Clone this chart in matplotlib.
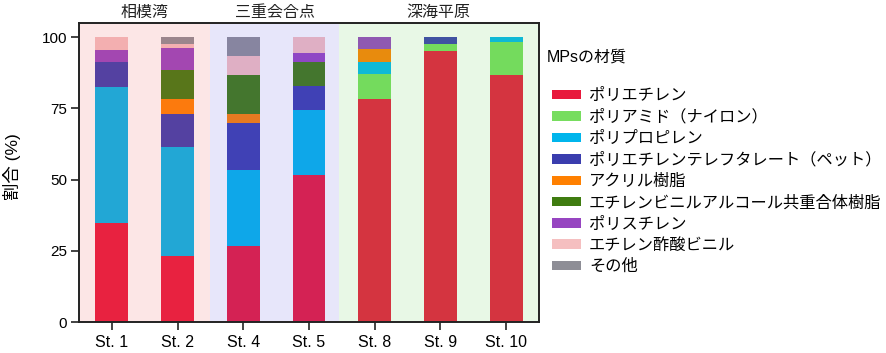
import matplotlib
matplotlib.use("Agg")
import matplotlib.pyplot as plt
import numpy as np

plt.rcParams['font.family'] = ['Liberation Sans', 'Noto Sans CJK JP', 'DejaVu Sans']

stations = ["St. 1", "St. 2", "St. 4", "St. 5", "St. 8", "St. 9", "St. 10"]
materials = ["ポリエチレン", "ポリアミド（ナイロン）", "ポリプロピレン",
             "ポリエチレンテレフタレート（ペット）", "アクリル樹脂",
             "エチレンビニルアルコール共重合体樹脂", "ポリスチレン",
             "エチレン酢酸ビニル", "その他"]
colors = ["#E8193C", "#77DD5F", "#00B5EC", "#3A3DAE", "#FF8000",
          "#3F7C10", "#9745C1", "#F5BFC0", "#8E8E96"]

# percent per station, one list per material
pe    = [34.8, 23.2, 26.7, 51.5, 78.2, 95.0, 86.7]
pa    = [0.0,  0.0,  0.0,  0.0,  8.8,  2.5, 11.7]
pp    = [47.8, 38.4, 26.6, 22.9, 4.2,  0.0,  1.6]
pet   = [8.6, 11.4, 16.6,  8.4,  0.0,  2.5,  0.0]
acryl = [0.0,  5.2,  3.3,  0.0,  4.5,  0.0,  0.0]
evoh  = [0.0, 10.2, 13.5,  8.4,  0.0,  0.0,  0.0]
ps    = [4.3,  7.7,  0.0,  3.1,  4.3,  0.0,  0.0]
eva   = [4.5,  1.4,  6.6,  5.7,  0.0,  0.0,  0.0]
other = [0.0,  2.5,  6.7,  0.0,  0.0,  0.0,  0.0]
shares = [pe, pa, pp, pet, acryl, evoh, ps, eva, other]

regions = ["相模湾", "三重会合点", "深海平原"]
region_spans = [(-0.5, 1.5), (1.5, 3.45), (3.45, 6.5)]
region_tints = ["#EB5858", "#6358DE", "#66D058"]

fig = plt.figure(figsize=(8.86, 3.53), dpi=100)
ax = fig.add_axes([79 / 886, 1 - 322 / 353, 460 / 886, 299 / 353])

x = np.arange(len(stations))
bottom = np.zeros(len(stations))
for name, vals, col in zip(materials, shares, colors):
    vals = np.array(vals)
    ax.bar(x, vals, 0.5, bottom=bottom, color=col, label=name, linewidth=0, zorder=1)
    bottom += vals

# tinted panels over the bars
for (a, b), tint, name in zip(region_spans, region_tints, regions):
    ax.axvspan(a, b, color=tint, alpha=0.15, linewidth=0, zorder=2)
    ax.text((a + b) / 2, 1.01, name, transform=ax.get_xaxis_transform(),
            ha="center", va="bottom", fontsize=11.5, color="#222222")

ax.set_xlim(-0.5, 6.5)
ax.set_ylim(0, 105)
ax.set_xticks(x)
ax.set_xticklabels(stations, fontsize=11.5)
ax.set_yticks([0, 25, 50, 75, 100])
ax.tick_params(axis="y", labelsize=11, length=5.5, width=1.2, color="#222222", pad=3)
ax.tick_params(axis="x", length=5.5, width=1.2, color="#222222", pad=4)
ax.set_ylabel("割合 (%)", fontsize=12.5)
ax.yaxis.set_label_coords(-0.125, 0.52)
for s in ax.spines.values():
    s.set_linewidth(1.4)
    s.set_color("#222222")

fig.text(547 / 886, 1 - 57 / 353, "MPsの材質", fontsize=11.5, ha="left", va="center")
ax.legend(loc="upper left", bbox_to_anchor=(1.015, 0.804), frameon=False,
          fontsize=11.7, handlelength=1.77, handleheight=0.5, handletextpad=0.49,
          labelspacing=0.38, borderaxespad=0)

fig.savefig("out.png", dpi=100)
